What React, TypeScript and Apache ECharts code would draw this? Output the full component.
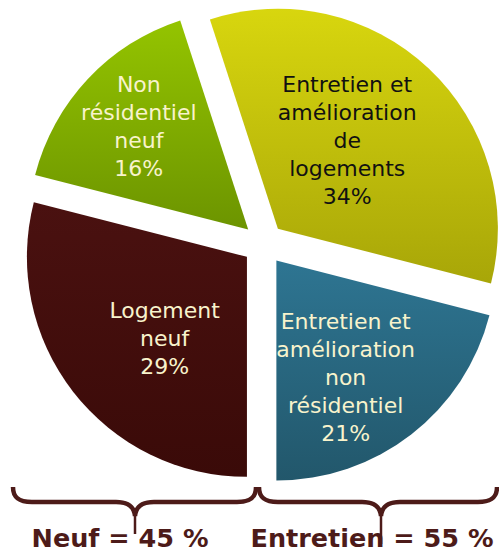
import React, { useEffect, useRef } from "react";
import * as echarts from "echarts";

const categories = [
  "Logement\nneuf",
  "Non\nrésidentiel\nneuf",
  "Entretien et\namélioration\nde\nlogements",
  "Entretien et\namélioration\nnon\nrésidentiel",
];
const values = [29, 16, 34, 21];
const groupLabels = ["Neuf = 45 %", "Entretien = 55 %"];

const topColors = ["#4a1110", "#94c400", "#d8d60e", "#2e7592"];
const bottomColors = ["#3a0a08", "#6c9400", "#a8a608", "#22576b"];
const textColors = ["#f8f3cc", "#f8f3cc", "#111111", "#f8f3cc"];
// label nudges: [dx, dy] in px
const labelShifts = [
  [7, 12],
  [-27, -26],
  [-8, -6],
  [0, 28],
];

const BRACE = "#4d1b19";

echarts.graphic.registerShape(
  "braceLeft",
  echarts.graphic.extendPath(
    "M13,487 C13,497 18,502 32,502 L116,502 C129,502 134,507 135,516 C136,507 141,502 154,502 L237,502 C251,502 256,497 256,487",
    {}
  )
);
echarts.graphic.registerShape(
  "braceRight",
  echarts.graphic.extendPath(
    "M259,487 C259,497 264,502 278,502 L362,502 C375,502 380,507 381,516 C382,507 387,502 400,502 L478,502 C492,502 497,497 497,487",
    {}
  )
);

export default function App() {
  const ref = useRef<HTMLDivElement>(null);
  useEffect(() => {
    if (!ref.current) return;
    const chart = echarts.init(ref.current, null, { renderer: "svg" });
    const data = categories.map((name, i) => ({
      name,
      value: values[i],
      selected: true,
      itemStyle: {
        color: {
          type: "linear",
          x: 0,
          y: 0,
          x2: 0,
          y2: 1,
          colorStops: [
            { offset: 0, color: topColors[i] },
            { offset: 1, color: bottomColors[i] },
          ],
        },
      },
      label: {
        color: textColors[i],
      },
    }));
    chart.setOption({
      animation: false,
      series: [
        {
          type: "pie",
          center: [263.5, 244],
          radius: [0, 220],
          startAngle: 270,
          clockwise: true,
          selectedMode: "multiple",
          selectedOffset: 21,
          silent: true,
          data,
          label: {
            show: true,
            position: "inside",
            formatter: "{b}\n{c}%",
            fontFamily: "DejaVu Sans",
            fontSize: 22,
            lineHeight: 28,
            align: "center",
          },
          labelLayout: (params: any) => ({
            dx: labelShifts[params.dataIndex][0],
            dy: labelShifts[params.dataIndex][1],
          }),
          labelLine: { show: false },
          emphasis: { disabled: true },
          select: { itemStyle: { borderWidth: 0 } },
        },
      ],
      graphic: [
        {
          type: "braceLeft",
          x: 0,
          y: 0,
          style: { stroke: BRACE, lineWidth: 4.5, fill: null },
        },
        {
          type: "braceRight",
          x: 0,
          y: 0,
          style: { stroke: BRACE, lineWidth: 4.5, fill: null },
        },
        {
          type: "line",
          shape: { x1: 135, y1: 512, x2: 135, y2: 534 },
          style: { stroke: BRACE, lineWidth: 2.5 },
        },
        {
          type: "line",
          shape: { x1: 381, y1: 512, x2: 381, y2: 544 },
          style: { stroke: BRACE, lineWidth: 2.5 },
        },
        {
          type: "text",
          x: 120,
          y: 538,
          style: {
            text: groupLabels[0],
            fill: BRACE,
            font: "bold 25.5px 'DejaVu Sans'",
            align: "center",
            verticalAlign: "middle",
          },
        },
        {
          type: "text",
          x: 372,
          y: 538,
          style: {
            text: groupLabels[1],
            fill: BRACE,
            font: "bold 25.5px 'DejaVu Sans'",
            align: "center",
            verticalAlign: "middle",
          },
        },
      ],
    });
    return () => chart.dispose();
  }, []);
  return (
    <div
      ref={ref}
      style={{ position: "absolute", left: 0, top: 0, width: 499, height: 554 }}
    />
  );
}
